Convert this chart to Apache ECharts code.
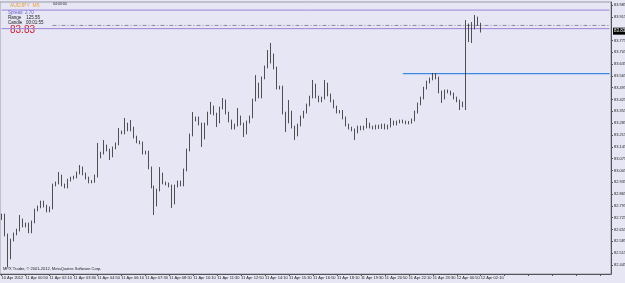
<!DOCTYPE html>
<html><head><meta charset="utf-8">
<script src="https://cdn.jsdelivr.net/npm/echarts@6/dist/echarts.min.js"></script>
<style>html,body{margin:0;padding:0;background:#E6E6F5}#c{width:625px;height:283px}</style>
</head><body><div id="c"></div>
<script>
// Time-axis tick labels (every 8 bars)
const timeLabels = ["10 Apr 2012","11 Apr 00:50","11 Apr 02:10","11 Apr 03:30","11 Apr 04:50","11 Apr 06:10","11 Apr 07:30","11 Apr 08:50","11 Apr 10:10","11 Apr 11:30","11 Apr 12:50","11 Apr 14:10","11 Apr 15:30","11 Apr 16:50","11 Apr 18:10","11 Apr 19:30","11 Apr 20:50","11 Apr 22:10","11 Apr 23:30","12 Apr 00:50","12 Apr 02:10"];
// Price-scale tick labels
const priceTicks = [82.445,82.515,82.585,82.655,82.725,82.795,82.865,82.935,83.005,83.075,83.145,83.215,83.285,83.355,83.425,83.495,83.565,83.635,83.705,83.775,83.915,83.985];
const opens = [82.720,82.741,82.623,82.487,82.593,82.629,82.652,82.712,82.676,82.688,82.641,82.700,82.771,82.789,82.818,82.794,82.765,82.783,82.919,82.931,82.972,82.919,82.907,82.948,82.960,82.966,82.990,83.020,82.984,82.960,82.937,82.940,82.972,83.085,83.108,83.150,83.126,83.091,83.138,83.162,83.233,83.227,83.280,83.245,83.256,83.203,83.174,83.168,83.108,83.114,83.020,82.907,82.800,82.889,82.984,82.931,82.925,82.913,82.812,82.913,82.937,82.919,83.008,83.126,83.215,83.304,83.316,83.280,83.197,83.280,83.345,83.381,83.339,83.292,83.375,83.417,83.345,83.298,83.256,83.274,83.322,83.280,83.227,83.292,83.322,83.422,83.517,83.440,83.553,83.618,83.647,83.689,83.612,83.493,83.499,83.345,83.292,83.351,83.262,83.215,83.274,83.322,83.351,83.393,83.440,83.511,83.440,83.417,83.434,83.517,83.452,83.417,83.381,83.351,83.355,83.316,83.274,83.256,83.245,83.233,83.262,83.251,83.262,83.280,83.262,83.256,83.268,83.259,83.274,83.256,83.268,83.292,83.280,83.292,83.298,83.292,83.286,83.290,83.304,83.351,83.399,83.434,83.493,83.529,83.547,83.559,83.553,83.470,83.434,83.476,83.470,83.458,83.434,83.417,83.387,83.405,83.867,83.807,83.849,83.908,83.872];
const closes = [82.741,82.623,82.487,82.593,82.629,82.652,82.712,82.676,82.688,82.641,82.700,82.771,82.789,82.818,82.794,82.765,82.783,82.919,82.931,82.972,82.919,82.907,82.948,82.960,82.966,82.990,83.020,82.984,82.960,82.937,82.940,82.972,83.085,83.108,83.150,83.126,83.091,83.138,83.162,83.233,83.227,83.280,83.245,83.256,83.203,83.174,83.168,83.108,83.114,83.020,82.907,82.800,82.889,82.984,82.931,82.925,82.913,82.812,82.913,82.937,82.919,83.008,83.126,83.215,83.304,83.316,83.280,83.197,83.280,83.345,83.381,83.339,83.292,83.375,83.417,83.345,83.298,83.256,83.274,83.322,83.280,83.227,83.292,83.322,83.422,83.517,83.440,83.553,83.618,83.647,83.689,83.612,83.493,83.499,83.345,83.292,83.351,83.262,83.215,83.274,83.322,83.351,83.393,83.440,83.511,83.440,83.417,83.434,83.517,83.452,83.417,83.381,83.351,83.355,83.316,83.274,83.256,83.245,83.233,83.262,83.251,83.262,83.280,83.262,83.256,83.268,83.259,83.274,83.256,83.268,83.292,83.280,83.292,83.298,83.292,83.286,83.290,83.304,83.351,83.399,83.434,83.493,83.529,83.547,83.559,83.553,83.470,83.434,83.476,83.470,83.458,83.434,83.417,83.387,83.405,83.867,83.807,83.849,83.908,83.872,83.830];
const lows = [82.712,82.615,82.433,82.479,82.585,82.621,82.644,82.668,82.668,82.633,82.633,82.692,82.763,82.781,82.786,82.757,82.757,82.775,82.911,82.923,82.911,82.899,82.899,82.940,82.952,82.958,82.982,82.976,82.952,82.929,82.929,82.932,82.964,83.077,83.100,83.118,83.067,83.083,83.130,83.154,83.219,83.219,83.237,83.237,83.195,83.166,83.160,83.100,83.100,83.012,82.899,82.741,82.792,82.881,82.923,82.917,82.905,82.783,82.804,82.905,82.911,82.911,83.000,83.118,83.207,83.296,83.272,83.144,83.189,83.272,83.337,83.331,83.262,83.284,83.367,83.337,83.290,83.248,83.248,83.266,83.272,83.203,83.219,83.284,83.314,83.414,83.432,83.432,83.545,83.610,83.639,83.604,83.485,83.485,83.337,83.233,83.284,83.254,83.185,83.207,83.266,83.314,83.343,83.385,83.432,83.432,83.409,83.409,83.426,83.444,83.409,83.373,83.343,83.343,83.308,83.266,83.248,83.237,83.185,83.225,83.243,83.243,83.254,83.254,83.248,83.248,83.251,83.251,83.248,83.248,83.260,83.272,83.272,83.284,83.284,83.278,83.278,83.282,83.296,83.343,83.391,83.426,83.485,83.521,83.539,83.545,83.462,83.405,83.426,83.462,83.450,83.426,83.409,83.363,83.379,83.363,83.766,83.760,83.841,83.864,83.822];
const highs = [82.749,82.749,82.631,82.601,82.637,82.660,82.741,82.720,82.696,82.696,82.708,82.779,82.797,82.826,82.826,82.802,82.791,82.927,82.939,82.996,82.980,82.927,82.956,82.968,82.974,82.998,83.037,83.028,82.992,82.968,82.948,82.980,83.168,83.116,83.185,83.158,83.134,83.146,83.170,83.256,83.241,83.316,83.288,83.304,83.264,83.211,83.182,83.176,83.122,83.122,83.028,82.915,82.897,83.025,82.992,82.939,82.933,82.921,82.921,82.945,82.945,83.016,83.134,83.223,83.351,83.324,83.324,83.288,83.288,83.353,83.411,83.389,83.347,83.383,83.434,83.425,83.353,83.306,83.282,83.375,83.330,83.288,83.300,83.330,83.430,83.570,83.525,83.561,83.626,83.718,83.760,83.697,83.620,83.507,83.507,83.353,83.422,83.359,83.270,83.282,83.330,83.359,83.401,83.448,83.541,83.519,83.448,83.442,83.541,83.525,83.460,83.425,83.389,83.363,83.363,83.324,83.282,83.264,83.253,83.270,83.270,83.270,83.316,83.288,83.270,83.276,83.276,83.282,83.282,83.276,83.316,83.300,83.300,83.306,83.306,83.300,83.298,83.312,83.359,83.407,83.442,83.501,83.537,83.555,83.582,83.582,83.561,83.478,83.484,83.484,83.478,83.466,83.442,83.425,83.413,83.896,83.875,83.884,83.926,83.916,83.880];
// Horizontal price lines
const upperLine = 83.955, lowerLine = 83.845, dashLine = 83.864, blueLine = 83.579, bidPrice = 83.830;
const dashFrom = 17, blueFrom = 134; // bar index where the drawn lines start
const shiftBars = 43; // empty space right of last bar

const nBars = closes.length;
const cats = [];
for (let i = 0; i < nBars + shiftBars; i++) cats.push(i % 8 === 0 && timeLabels[i / 8] ? timeLabels[i / 8] : 'b' + i);
const ohlc = closes.map((c, i) => [opens[i], c, lows[i], highs[i]]);
const lastCat = nBars + shiftBars - 1;

const chart = echarts.init(document.getElementById('c'), null, {renderer: 'canvas'});
const tiny = {fontFamily: 'Liberation Sans', fontSize: 4};
function hline(value, color, type, fromCat, width) {
  return {
    type: 'line', data: [[fromCat, value], [lastCat, value]], silent: true, z: 1,
    symbol: 'none', showSymbol: false, clip: false, color: color,
    lineStyle: {color: color, width: width || 1, type: type, opacity: 1}, itemStyle: {color: color}
  };
}
chart.setOption({
  backgroundColor: '#E6E6F5',
  animation: false,
  grid: {left: 0, right: 14, top: 2, bottom: 9, containLabel: false, outerBoundsMode: 'none',
    show: true, borderColor: '#9a9aa8', borderWidth: 1, backgroundColor: '#E6E6F5'},
  xAxis: {
    type: 'category', data: cats, boundaryGap: true,
    axisLine: {show: true, lineStyle: {color: '#555', width: 1}},
    axisTick: {show: true, interval: 7, length: 2, alignWithLabel: true, lineStyle: {color: '#555'}},
    axisLabel: {interval: 7, align: 'left', margin: 2, color: '#222', hideOverlap: false, showMinLabel: true, ...tiny,
      formatter: v => (v.charAt(0) === 'b' ? '' : v)},
    splitLine: {show: false}
  },
  yAxis: {
    type: 'value', position: 'right', min: 82.3917, max: 84.0028,
    axisLine: {show: true, lineStyle: {color: '#555', width: 1}},
    axisTick: {show: true, length: 2, customValues: priceTicks, lineStyle: {color: '#555'}},
    axisLabel: {customValues: priceTicks, margin: 3, color: '#222', hideOverlap: false, ...tiny, formatter: v => v.toFixed(3)},
    splitLine: {show: false}
  },
  series: [
    hline(upperLine, '#9c84d8', 'solid', 0),
    hline(lowerLine, '#9c84d8', 'solid', 0),
    hline(dashLine, '#8a8a9a', [4, 2, 1, 2], dashFrom),
    hline(blueLine, '#3a8ae6', 'solid', blueFrom, 1.3),
    {
      type: 'candlestick', data: ohlc, barWidth: 1.2, clip: false, z: 3,
      itemStyle: {color: '#a0a0aa', color0: '#2a2a2a', borderColor: '#2a2a2a', borderColor0: '#2a2a2a', borderWidth: 0.8},
      markLine: {
        silent: true, symbol: 'none', animation: false,
        data: [
          {yAxis: bidPrice, lineStyle: {color: 'rgba(0,0,0,0)', width: 0},
            label: {show: true, position: 'end', distance: 2, formatter: bidPrice.toFixed(3), backgroundColor: '#000', color: '#fff', padding: [1, 1], fontFamily: 'Liberation Sans', fontSize: 4.5}}
        ]
      }
    }
  ],
  graphic: [
    {type: 'text', left: 10, top: 3, style: {text: 'AUDJPY  M5', fill: '#e8a040', fontFamily: 'Liberation Sans', fontSize: 5}},
    {type: 'text', left: 53, top: 2, style: {text: '04:03:04', fill: '#222', fontFamily: 'Liberation Sans', fontSize: 3.5}},
    {type: 'text', left: 8, top: 10, style: {text: 'Spread  2.70', fill: '#6060c8', fontFamily: 'Liberation Sans', fontSize: 4.5}},
    {type: 'text', left: 8, top: 15, style: {text: 'Range    125.55', fill: '#222', fontFamily: 'Liberation Sans', fontSize: 4.5}},
    {type: 'text', left: 8, top: 20, style: {text: 'Candle   00:01:55', fill: '#222', fontFamily: 'Liberation Sans', fontSize: 4.5}},
    {type: 'text', left: 10, top: 25, style: {text: '83.83', fill: '#d02030', fontFamily: 'Liberation Sans', fontSize: 10}},
    {type: 'text', left: 3, top: 267, style: {text: 'MPX Trader, \u00a9 2001-2012, MetaQuotes Software Corp.', fill: '#222', fontFamily: 'Liberation Sans', fontSize: 4}}
  ]
});
</script></body></html>
